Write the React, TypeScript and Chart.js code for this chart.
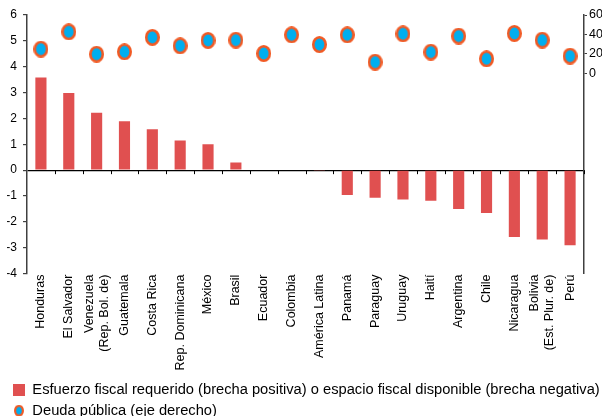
import React, { useEffect, useRef } from "react";
import { Chart, registerables } from "chart.js";

Chart.register(...registerables);

const categories: (string | string[])[] = [
  "Honduras",
  "El Salvador",
  ["Venezuela", "(Rep. Bol. de)"],
  "Guatemala",
  "Costa Rica",
  "Rep. Dominicana",
  "México",
  "Brasil",
  "Ecuador",
  "Colombia",
  "América Latina",
  "Panamá",
  "Paraguay",
  "Uruguay",
  "Haití",
  "Argentina",
  "Chile",
  "Nicaragua",
  ["Bolivia", "(Est. Plur. de)"],
  "Perú",
];

const fiscalGap = [
  3.58, 2.98, 2.22, 1.89, 1.58, 1.15, 1.0, 0.3, 0.03, 0.03, -0.03, -0.96, -1.07,
  -1.13, -1.18, -1.5, -1.66, -2.58, -2.68, -2.9,
];

const publicDebt = [
  24.8, 42.7, 19.6, 22.0, 36.9, 28.2, 33.8, 34.1, 20.3, 39.6, 29.5, 39.6, 11.4,
  40.6, 21.7, 38.3, 14.8, 41.0, 34.1, 17.6,
];

const leftTicks = [-4, -3, -2, -1, 0, 1, 2, 3, 4, 5, 6];
const rightTicks = [0, 20, 40, 60];

const seriesNames = [
  "Esfuerzo fiscal requerido (brecha positiva) o espacio fiscal disponible (brecha negativa)",
  "Deuda pública (eje derecho)",
];

const BAR_COLOR = "#e05050";
const DOT_FILL = "#00aeef";
const DOT_BORDER = "#f15a24";
const FONT = "'Liberation Sans', Arial, sans-serif";

function makeEllipse(w: number, h: number, lw: number): HTMLCanvasElement {
  const c = document.createElement("canvas");
  c.width = w;
  c.height = h;
  const g = c.getContext("2d")!;
  g.beginPath();
  g.ellipse(w / 2, h / 2, w / 2 - lw / 2, h / 2 - lw / 2, 0, 0, Math.PI * 2);
  g.fillStyle = DOT_FILL;
  g.fill();
  g.lineWidth = lw;
  g.strokeStyle = DOT_BORDER;
  g.stroke();
  return c;
}

const zeroTicksPlugin = {
  id: "zeroTicks",
  beforeDraw(chart: any) {
    // center multi-line rotated category labels on their tick
    const x = chart.scales.x;
    const items = x.getLabelItems(chart.chartArea);
    items.forEach((it: any) => {
      if (it._centered) return;
      it._centered = true;
      const lines = Array.isArray(it.label) ? it.label.length : 1;
      if (lines > 1) {
        const lh = (it.font && it.font.lineHeight) || 15;
        it.textOffset -= ((lines - 1) * lh) / 2;
      }
    });
  },
  afterDatasetsDraw(chart: any) {
    const x = chart.scales.x;
    const y = chart.scales.y;
    const ctx = chart.ctx;
    const y0 = y.getPixelForValue(0);
    const n = categories.length;
    const step = x.width / n;
    ctx.save();
    ctx.strokeStyle = "#000";
    ctx.lineWidth = 1;
    for (let i = 1; i <= n; i++) {
      const px = Math.round(x.left + i * step) + 0.5;
      ctx.beginPath();
      ctx.moveTo(px, y0);
      ctx.lineTo(px, y0 + 4);
      ctx.stroke();
    }
    ctx.restore();
  },
};

export default function App() {
  const ref = useRef<HTMLCanvasElement | null>(null);

  useEffect(() => {
    document.body.style.margin = "0";
    const dot = makeEllipse(15, 17, 2.6);
    const legendDot = makeEllipse(10, 12, 2.2);
    const chart = new Chart(ref.current!, {
      type: "bar",
      data: {
        labels: categories as any,
        datasets: [
          {
            type: "line",
            label: seriesNames[1],
            data: publicDebt,
            yAxisID: "y1",
            showLine: false,
            pointStyle: dot as any,
            pointRadius: 8,
            order: 0,
          } as any,
          {
            type: "bar",
            label: seriesNames[0],
            data: fiscalGap,
            yAxisID: "y",
            backgroundColor: BAR_COLOR,
            barPercentage: 0.4,
            categoryPercentage: 1,
            order: 1,
          },
        ],
      },
      options: {
        animation: false,
        responsive: false,
        layout: { padding: { top: 15, left: 7, right: 0, bottom: 0 } },
        plugins: {
          tooltip: { enabled: false },
          legend: {
            position: "bottom",
            align: "start",
            labels: {
              usePointStyle: true,
              color: "#000",
              font: { family: FONT, size: 14.7 },
              padding: 6,
              boxWidth: 12,
              boxHeight: 12,
              generateLabels: () => [
                {
                  text: seriesNames[0],
                  pointStyle: "rect",
                  fillStyle: BAR_COLOR,
                  strokeStyle: BAR_COLOR,
                  lineWidth: 0,
                  datasetIndex: 1,
                } as any,
                {
                  text: seriesNames[1],
                  pointStyle: legendDot,
                  fillStyle: DOT_FILL,
                  strokeStyle: DOT_BORDER,
                  lineWidth: 0,
                  datasetIndex: 0,
                } as any,
              ],
            },
          },
        },
        scales: {
          x: {
            grid: { display: false, drawTicks: false },
            border: { display: false },
            afterFit: (s: any) => {
              s.height = 103;
            },
            ticks: {
              autoSkip: false,
              minRotation: 90,
              maxRotation: 90,
              color: "#000",
              padding: 1,
              font: { family: FONT, size: 12.5 },
            },
          },
          y: {
            position: "left",
            min: -4,
            max: 6,
            afterBuildTicks: (s: any) => {
              s.ticks = leftTicks.map((v) => ({ value: v }));
            },
            afterFit: (s: any) => {
              s.width = 20;
            },
            border: { display: true, color: "#404040", width: 1.5 },
            grid: {
              drawOnChartArea: true,
              color: (c: any) => (c.tick && c.tick.value === 0 ? "#000" : "rgba(0,0,0,0)"),
              tickColor: "#404040",
              tickLength: 4,
              lineWidth: 1.2,
            },
            ticks: {
              color: "#000",
              padding: 6,
              font: { family: FONT, size: 12 },
            },
          },
          y1: {
            position: "right",
            min: -207,
            max: 60,
            afterBuildTicks: (s: any) => {
              s.ticks = rightTicks.map((v) => ({ value: v }));
            },
            afterFit: (s: any) => {
              s.width = 18;
            },
            border: { display: true, color: "#404040", width: 1.5 },
            grid: {
              drawOnChartArea: false,
              tickColor: "#404040",
              tickLength: 3,
            },
            ticks: {
              color: "#000",
              padding: 2,
              font: { family: FONT, size: 12.5 },
            },
          },
        },
      },
      plugins: [zeroTicksPlugin],
    });
    return () => chart.destroy();
  }, []);

  return (
    <div style={{ width: 602, height: 428, overflow: "hidden" }}>
      <canvas ref={ref} width={602} height={428} style={{ display: "block" }} />
    </div>
  );
}
